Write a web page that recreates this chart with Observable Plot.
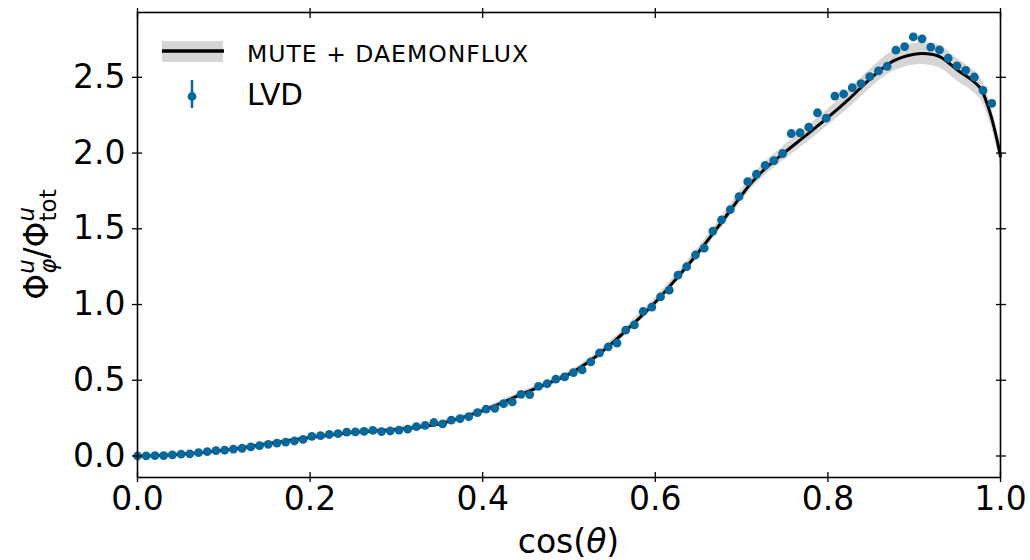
<!DOCTYPE html>
<html>
<head>
<meta charset="utf-8">
<script src="https://cdn.jsdelivr.net/npm/d3@7"></script>
<script src="https://cdn.jsdelivr.net/npm/@observablehq/plot@0.6"></script>
<style>
  body { margin: 0; background: #fff; }
  #chart svg { display: block; }
</style>
</head>
<body>
<div id="chart"></div>
<script>
// LVD measurement: zenith-angle distribution ratio
const cosTheta = [0, 0.0101, 0.0202, 0.0303, 0.0404, 0.0505, 0.0606, 0.0707, 0.0808, 0.0909,
  0.1010, 0.1111, 0.1212, 0.1313, 0.1414, 0.1515, 0.1616, 0.1717, 0.1818, 0.1919,
  0.2020, 0.2121, 0.2222, 0.2323, 0.2424, 0.2525, 0.2626, 0.2727, 0.2828, 0.2929,
  0.3030, 0.3131, 0.3232, 0.3333, 0.3434, 0.3535, 0.3636, 0.3737, 0.3838, 0.3939,
  0.4040, 0.4141, 0.4242, 0.4343, 0.4444, 0.4545, 0.4646, 0.4747, 0.4848, 0.4949,
  0.5051, 0.5152, 0.5253, 0.5354, 0.5455, 0.5556, 0.5657, 0.5758, 0.5859, 0.5960,
  0.6061, 0.6162, 0.6263, 0.6364, 0.6465, 0.6566, 0.6667, 0.6768, 0.6869, 0.6970,
  0.7071, 0.7172, 0.7273, 0.7374, 0.7475, 0.7576, 0.7677, 0.7778, 0.7879, 0.7980,
  0.8081, 0.8182, 0.8283, 0.8384, 0.8485, 0.8586, 0.8687, 0.8788, 0.8889, 0.8990,
  0.9091, 0.9192, 0.9293, 0.9394, 0.9495, 0.9596, 0.9697, 0.9798, 0.9899];
const lvdRatio = [0.000, 0.001, 0.003, 0.003, 0.008, 0.012, 0.014, 0.022, 0.029, 0.035,
  0.039, 0.045, 0.051, 0.060, 0.068, 0.077, 0.085, 0.092, 0.099, 0.110,
  0.130, 0.134, 0.142, 0.148, 0.157, 0.159, 0.163, 0.169, 0.161, 0.165,
  0.171, 0.178, 0.194, 0.202, 0.221, 0.212, 0.237, 0.246, 0.259, 0.286,
  0.310, 0.315, 0.345, 0.357, 0.407, 0.405, 0.460, 0.477, 0.508, 0.522,
  0.551, 0.568, 0.622, 0.681, 0.721, 0.745, 0.831, 0.866, 0.954, 0.983,
  1.050, 1.095, 1.194, 1.250, 1.327, 1.372, 1.485, 1.559, 1.627, 1.712,
  1.811, 1.860, 1.918, 1.950, 1.997, 2.129, 2.134, 2.171, 2.266, 2.230,
  2.376, 2.390, 2.432, 2.458, 2.504, 2.542, 2.573, 2.679, 2.703, 2.767,
  2.754, 2.699, 2.681, 2.626, 2.576, 2.546, 2.502, 2.414, 2.328];

// MUTE + DAEMONFLUX prediction with its uncertainty band
const modelCos = [0, 0.05, 0.10, 0.15, 0.20, 0.25, 0.30, 0.35, 0.40, 0.45,
  0.50, 0.525, 0.55, 0.575, 0.60, 0.625, 0.65, 0.675, 0.70, 0.71,
  0.725, 0.75, 0.775, 0.80, 0.825, 0.85, 0.875, 0.90, 0.915, 0.93,
  0.95, 0.965, 0.977, 0.986, 0.993, 1.0];
const modelRatio = [0.000, 0.012, 0.038, 0.080, 0.122, 0.155, 0.175, 0.213, 0.300, 0.420,
  0.540, 0.630, 0.745, 0.875, 1.015, 1.175, 1.345, 1.530, 1.722, 1.795,
  1.885, 2.005, 2.118, 2.235, 2.360, 2.495, 2.605, 2.652, 2.655, 2.635,
  2.548, 2.490, 2.425, 2.300, 2.160, 1.980];
const modelLow = [-0.005, 0.006, 0.030, 0.070, 0.110, 0.142, 0.161, 0.198, 0.283, 0.402,
  0.520, 0.608, 0.721, 0.849, 0.987, 1.144, 1.311, 1.493, 1.682, 1.754,
  1.842, 1.958, 2.067, 2.180, 2.301, 2.432, 2.538, 2.581, 2.582, 2.561,
  2.474, 2.418, 2.355, 2.232, 2.094, 1.916];
const modelHigh = [0.005, 0.018, 0.046, 0.090, 0.134, 0.168, 0.189, 0.228, 0.317, 0.438,
  0.560, 0.652, 0.769, 0.901, 1.043, 1.206, 1.379, 1.567, 1.762, 1.836,
  1.928, 2.052, 2.169, 2.290, 2.419, 2.558, 2.672, 2.723, 2.728, 2.709,
  2.622, 2.562, 2.495, 2.368, 2.226, 2.044];

const xTicks = [0, 0.2, 0.4, 0.6, 0.8, 1.0];
const yTicks = [0, 0.5, 1.0, 1.5, 2.0, 2.5];

const lvd = cosTheta.map((x, i) => ({x, y: lvdRatio[i]}));
const model = modelCos.map((x, i) => ({x, y: modelRatio[i], lo: modelLow[i], hi: modelHigh[i]}));

const FONT = "'DejaVu Sans', sans-serif";
const BLUE = "#08689c";
const BAND = "#d6d6d6";
const TICK_FONT = 33;
const fmt = d3.format(".1f");
const blank = () => "";

const W = 1030, H = 560;
const mL = 137, mR = 30, mT = 12, mB = 83;

const plot = Plot.plot({
  width: W, height: H,
  marginLeft: mL, marginRight: mR, marginTop: mT, marginBottom: mB,
  style: {fontFamily: FONT, fontSize: TICK_FONT + "px", color: "#000", background: "#fff", overflow: "visible"},
  x: {domain: [0, 1]},
  y: {domain: [-0.142, 2.928]},
  marks: [
    Plot.areaY(model, {x: "x", y1: "lo", y2: "hi", fill: BAND, curve: "catmull-rom"}),
    Plot.line(model, {x: "x", y: "y", stroke: "#000", strokeWidth: 3, curve: "catmull-rom"}),
    Plot.dot(lvd, {x: "x", y: "y", r: 4.4, fill: BLUE, stroke: "none"}),
    Plot.frame({stroke: "#000", strokeWidth: 1.6}),
    // ticks crossing each spine
    Plot.axisX(xTicks, {anchor: "bottom", tickSize: 10, dy: -5, tickFormat: blank, label: null, strokeWidth: 1.3}),
    Plot.axisX(xTicks, {anchor: "top", tickSize: 10, dy: 5, tickFormat: blank, label: null, strokeWidth: 1.3}),
    Plot.axisY(yTicks, {anchor: "left", tickSize: 10, dx: 5, tickFormat: blank, label: null, strokeWidth: 1.3}),
    Plot.axisY(yTicks, {anchor: "right", tickSize: 10, dx: -5, tickFormat: blank, label: null, strokeWidth: 1.3}),
    // tick labels
    Plot.axisX(xTicks, {anchor: "bottom", tickSize: 0, tickPadding: 9, tickFormat: fmt, label: null, fontSize: TICK_FONT}),
    Plot.axisY(yTicks, {anchor: "left", tickSize: 0, tickPadding: 12, tickFormat: fmt, label: null, fontSize: TICK_FONT})
  ]
});

document.getElementById("chart").appendChild(plot);
const svg = d3.select(plot);

// x-axis title
const xt = svg.append("text")
  .attr("x", mL + (W - mL - mR) / 2).attr("y", 553)
  .attr("text-anchor", "middle")
  .attr("font-family", FONT).attr("font-size", TICK_FONT).attr("fill", "#000");
xt.append("tspan").text("cos(");
xt.append("tspan").attr("font-style", "italic").text("θ");
xt.append("tspan").text(")");

// y-axis title: Φ^u_φ / Φ^u_tot, laid out piece by piece
const yg = svg.append("g").attr("text-anchor", "start");
const pieces = [
  {t: "Φ", size: 33},
  {t: "u", size: 23, dy: -14, italic: true, stack: true},
  {t: "φ", size: 23, dy: 8, italic: true},
  {t: "/Φ", size: 33},
  {t: "u", size: 23, dy: -14, italic: true, stack: true},
  {t: "tot", size: 23, dy: 8}
];
let cursor = 0, pending = 0;
for (const p of pieces) {
  const el = yg.append("text")
    .attr("x", cursor).attr("y", p.dy || 0)
    .attr("text-anchor", "start")
    .attr("font-family", FONT).attr("font-size", p.size)
    .attr("font-style", p.italic ? "italic" : null)
    .attr("fill", "#000").text(p.t);
  const w = el.node().getComputedTextLength();
  if (p.stack) { pending = w; }
  else { cursor += Math.max(w, pending); pending = 0; }
}
const yMid = mT + (H - mT - mB) / 2;
yg.attr("transform", `translate(48,${yMid + cursor / 2}) rotate(-90)`);

// legend
const lg = svg.append("g").attr("font-family", FONT).attr("fill", "#000").attr("text-anchor", "start");
lg.append("rect").attr("x", 162).attr("y", 41).attr("width", 61).attr("height", 21).attr("fill", BAND);
lg.append("line").attr("x1", 162).attr("x2", 224).attr("y1", 51).attr("y2", 51)
  .attr("stroke", "#000").attr("stroke-width", 3.5);
lg.append("text").attr("x", 247).attr("y", 62).attr("font-size", 23.5)
  .attr("letter-spacing", 1).attr("text-anchor", "start").text("MUTE + DAEMONFLUX");
lg.append("line").attr("x1", 192).attr("x2", 192).attr("y1", 80).attr("y2", 108)
  .attr("stroke", BLUE).attr("stroke-width", 2.5);
lg.append("circle").attr("cx", 192).attr("cy", 96.5).attr("r", 4.4).attr("fill", BLUE);
lg.append("text").attr("x", 247).attr("y", 104.5).attr("font-size", 29.5).attr("text-anchor", "start").text("LVD");
</script>
</body>
</html>
